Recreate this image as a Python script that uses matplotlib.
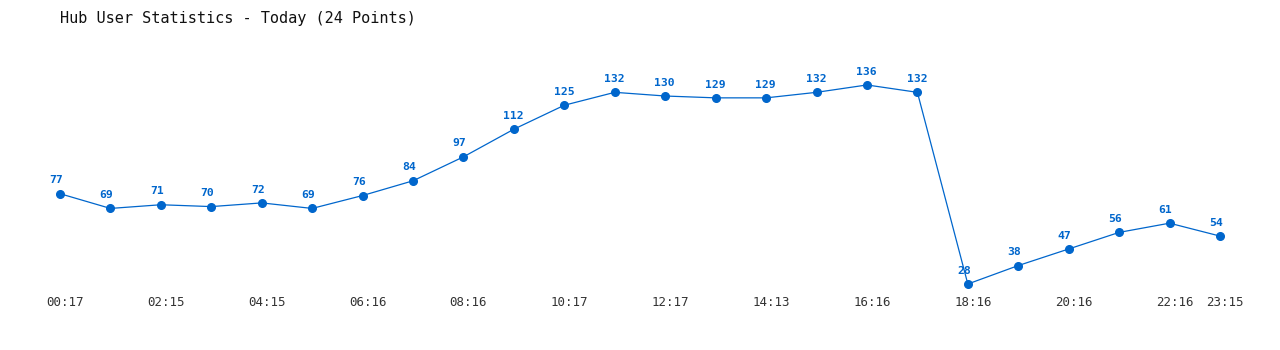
import matplotlib
matplotlib.use("Agg")
import matplotlib.pyplot as plt
from matplotlib.transforms import ScaledTranslation

title = "Hub User Statistics - Today (24 Points)"
values = [77, 69, 71, 70, 72, 69, 76, 84, 97, 112, 125, 132, 130, 129, 129, 132, 136, 132, 28, 38, 47, 56, 61, 54]
tick_positions = [0, 2, 4, 6, 8, 10, 12, 14, 16, 18, 20, 22, 23]
tick_labels = ["00:17", "02:15", "04:15", "06:16", "08:16", "10:17", "12:17", "14:13", "16:16", "18:16", "20:16", "22:16", "23:15"]

color = "#0066CC"
fig = plt.figure(figsize=(12.8, 3.5), dpi=100)
ax = fig.add_axes([40/1280, 55/350, 1200/1280, 235/350])
x = list(range(len(values)))
ax.plot(x, values, color=color, lw=0.9, marker="o", ms=5.5, mec=color, mfc=color)
for xi, v in zip(x, values):
    ax.annotate(str(v), (xi, v), xytext=(-7.8, 6), textcoords="offset points",
                ha="left", va="bottom", fontsize=8.2, fontweight="bold",
                family="DejaVu Sans Mono", color=color)
ax.set_xlim(-20/50.43, 23 + 20/50.43)
ax.set_ylim(22.03, 149.54)
ax.set_xticks(tick_positions)
ax.set_xticklabels(tick_labels, family="DejaVu Sans Mono", fontsize=9, color="#333333")
ax.tick_params(axis="x", length=0, pad=1)
offset = ScaledTranslation(5/100, 0, fig.dpi_scale_trans)
for lbl in ax.get_xticklabels():
    lbl.set_transform(lbl.get_transform() + offset)
ax.set_yticks([])
for s in ax.spines.values():
    s.set_visible(False)
fig.text(60/1280, 1 - 18/350, title, family="DejaVu Sans Mono", fontsize=11,
         color="#111111", ha="left", va="center")
fig.savefig("out.png", dpi=100, facecolor="white")
